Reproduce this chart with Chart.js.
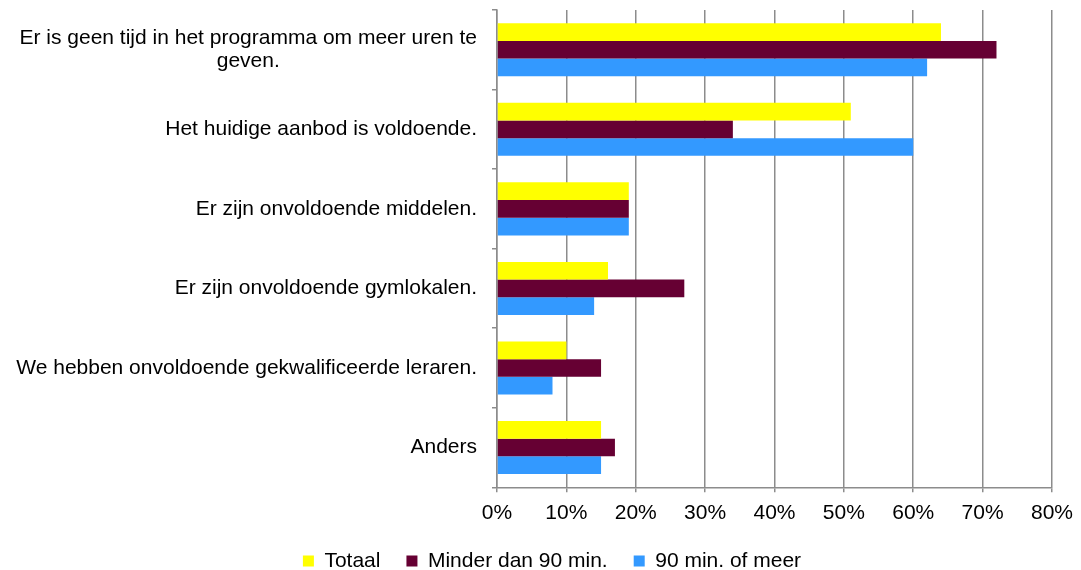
<!DOCTYPE html>
<html>
<head>
<meta charset="utf-8">
<script src="https://cdn.jsdelivr.net/npm/chart.js@4/dist/chart.umd.min.js"></script>
<style>
  html, body { margin: 0; padding: 0; background: #fff; }
  #wrap { width: 1081px; height: 570px; position: relative; }
</style>
</head>
<body>
<div id="wrap"><canvas id="c"></canvas></div>
<script>
const categories = [
  ["Er is geen tijd in het programma om meer uren te", "geven."],
  ["Het huidige aanbod is voldoende."],
  ["Er zijn onvoldoende middelen."],
  ["Er zijn onvoldoende gymlokalen."],
  ["We hebben onvoldoende gekwalificeerde leraren."],
  ["Anders"]
];
const seriesNames = ["Totaal", "Minder dan 90 min.", "90 min. of meer"];
const totaal = [64, 51, 19, 16, 10, 15];
const minder = [72, 34, 19, 27, 15, 17];
const meer   = [62, 60, 19, 14, 8, 15];
const xTicks = [0, 10, 20, 30, 40, 50, 60, 70, 80];

const FONT = "'Liberation Sans', Arial, sans-serif";
const FS = 21;
const GRID = '#8c8c8c';
const LEFT_PAD = 51;

const labelPlugin = {
  id: 'catLabels',
  afterDraw(chart) {
    const y = chart.scales.y;
    const ctx = chart.ctx;
    ctx.save();
    ctx.font = FS + 'px ' + FONT;
    ctx.fillStyle = '#000';
    ctx.textBaseline = 'middle';
    ctx.textAlign = 'center';
    const right = y.right - 20;
    const lh = 23;
    categories.forEach((lines, i) => {
      const cy = y.getPixelForTick(i);
      const w = Math.max(...lines.map(l => ctx.measureText(l).width));
      const cx = right - w / 2;
      const top = cy - (lines.length - 1) * lh / 2;
      lines.forEach((l, j) => ctx.fillText(l, cx, top + j * lh));
    });
    ctx.restore();
  }
};

new Chart(document.getElementById('c'), {
  type: 'bar',
  data: {
    labels: categories,
    datasets: [
      { label: seriesNames[0], data: totaal, backgroundColor: '#FFFF00', borderWidth: 0 },
      { label: seriesNames[1], data: minder, backgroundColor: '#660033', borderWidth: 0 },
      { label: seriesNames[2], data: meer, backgroundColor: '#3399FF', borderWidth: 0 }
    ]
  },
  options: {
    indexAxis: 'y',
    responsive: true,
    maintainAspectRatio: false,
    animation: false,
    layout: { padding: { left: LEFT_PAD, right: 28, top: 10, bottom: -11.5 } },
    datasets: { bar: { categoryPercentage: 0.667, barPercentage: 1.0 } },
    scales: {
      x: {
        min: 0, max: 80,
        afterBuildTicks(scale) { scale.ticks = xTicks.map(v => ({ value: v })); },
        afterFit(scale) { scale.height -= 9; },
        ticks: {
          callback: v => v + '%',
          font: { family: FONT, size: FS },
          color: '#000',
          padding: 8,
          maxRotation: 0
        },
        grid: { color: GRID, lineWidth: 1.5, tickLength: 5, drawTicks: true },
        border: { color: GRID, width: 1.5 }
      },
      y: {
        ticks: { display: false },
        grid: { drawOnChartArea: false, color: GRID, lineWidth: 1.5, tickLength: 5, offset: true },
        border: { color: GRID, width: 1.5 },
        afterFit(scale) { scale.width = 497 - LEFT_PAD; }
      }
    },
    plugins: {
      legend: {
        position: 'bottom',
        labels: {
          font: { family: FONT, size: FS },
          color: '#000',
          boxWidth: 11,
          boxHeight: 11,
          padding: 26
        }
      },
      tooltip: { enabled: false }
    }
  },
  plugins: [labelPlugin]
});
</script>
</body>
</html>
